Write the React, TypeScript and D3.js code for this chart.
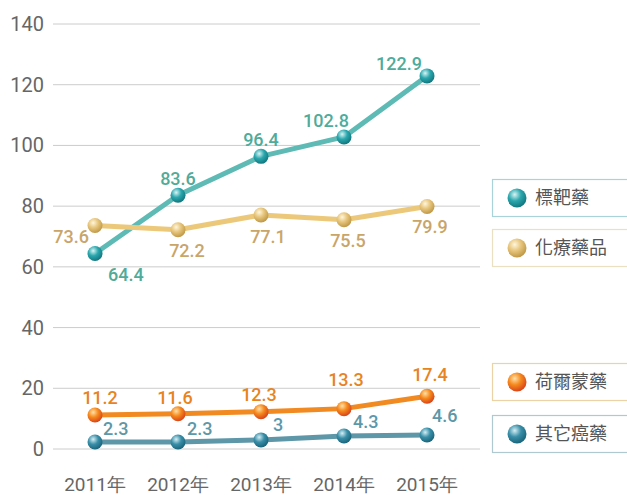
import React from "react";
import * as d3 from "d3";

const years = ["2011年", "2012年", "2013年", "2014年", "2015年"];
const yTicks = [0, 20, 40, 60, 80, 100, 120, 140];
const targeted = [64.4, 83.6, 96.4, 102.8, 122.9];
const chemo = [73.6, 72.2, 77.1, 75.5, 79.9];
const hormone = [11.2, 11.6, 12.3, 13.3, 17.4];
const others = [2.3, 2.3, 3, 4.3, 4.6];
const seriesNames = ["標靶藥", "化療藥品", "荷爾蒙藥", "其它癌藥"];

const W = 627;
const H = 495;

type Series = {
  name: string;
  values: number[];
  line: string;
  label: string;
  dot: [string, string, string];
  border: string;
  legendY: number;
  lab: { dx: number; dy: number; anchor: string }[];
};

const series: Series[] = [
  {
    name: seriesNames[0],
    values: targeted,
    line: "#5dbab5",
    label: "#4fab9a",
    dot: ["#d8f4f4", "#2aa7ad", "#0d6f78"],
    border: "#a8d3d8",
    legendY: 179,
    lab: [
      { dx: 13, dy: 27, anchor: "start" },
      { dx: 0, dy: -10, anchor: "middle" },
      { dx: 0, dy: -10, anchor: "middle" },
      { dx: -18, dy: -10, anchor: "middle" },
      { dx: -28, dy: -6, anchor: "middle" },
    ],
  },
  {
    name: seriesNames[1],
    values: chemo,
    line: "#ecc97a",
    label: "#c9a56a",
    dot: ["#fff6dc", "#e6c47a", "#b8913e"],
    border: "#ebe0c2",
    legendY: 229,
    lab: [
      { dx: -6, dy: 17, anchor: "end" },
      { dx: 9, dy: 27, anchor: "middle" },
      { dx: 7, dy: 28, anchor: "middle" },
      { dx: 4, dy: 27, anchor: "middle" },
      { dx: 3, dy: 27, anchor: "middle" },
    ],
  },
  {
    name: seriesNames[2],
    values: hormone,
    line: "#f28a22",
    label: "#e8841f",
    dot: ["#ffe0a8", "#f5891c", "#d4381a"],
    border: "#ecd3a6",
    legendY: 363,
    lab: [
      { dx: 5, dy: -11, anchor: "middle" },
      { dx: -3, dy: -10, anchor: "middle" },
      { dx: -2, dy: -11, anchor: "middle" },
      { dx: 2, dy: -23, anchor: "middle" },
      { dx: 3, dy: -15, anchor: "middle" },
    ],
  },
  {
    name: seriesNames[3],
    values: others,
    line: "#5d97a8",
    label: "#5d97a8",
    dot: ["#d4eef4", "#3a8fa8", "#135e75"],
    border: "#b0c9d0",
    legendY: 415,
    lab: [
      { dx: 8, dy: -7, anchor: "start" },
      { dx: 9, dy: -7, anchor: "start" },
      { dx: 12, dy: -9, anchor: "start" },
      { dx: 9, dy: -8, anchor: "start" },
      { dx: 5, dy: -13, anchor: "start" },
    ],
  },
];

export default function App() {
  const x = d3.scalePoint<string>().domain(years).range([95, 427]);
  const y = d3.scaleLinear().domain([0, 140]).range([449, 24]);
  const line = d3
    .line<number>()
    .x((_, i) => x(years[i]) as number)
    .y((d) => y(d));
  const font = "Roboto, 'DejaVu Sans', sans-serif";
  const cjk = "'Noto Sans CJK TC', 'Noto Sans CJK SC', sans-serif";

  return (
    <svg
      width={W}
      height={H}
      style={{ position: "absolute", left: 0, top: 0, background: "#fff" }}
    >
      <defs>
        {series.map((s, i) => (
          <radialGradient key={i} id={`g${i}`} cx="0.38" cy="0.32" r="0.75">
            <stop offset="0" stopColor={s.dot[0]} />
            <stop offset="0.45" stopColor={s.dot[1]} />
            <stop offset="1" stopColor={s.dot[2]} />
          </radialGradient>
        ))}
      </defs>
      {yTicks.map((t) => (
        <g key={t}>
          <line x1={53} x2={480} y1={y(t)} y2={y(t)} stroke="#cccccc" strokeWidth={1} />
          <text
            x={44}
            y={y(t) + 7}
            textAnchor="end"
            fontFamily={font}
            fontSize={20}
            fill="#666"
          >
            {t}
          </text>
        </g>
      ))}
      {years.map((yr) => (
        <text
          key={yr}
          x={x(yr)}
          y={491}
          textAnchor="middle"
          fontFamily={font}
          fontSize={19}
          fill="#666"
        >
          {yr}
        </text>
      ))}
      {series.map((s, si) => (
        <g key={si}>
          <path d={line(s.values) || ""} fill="none" stroke={s.line} strokeWidth={5} strokeLinejoin="round" />
          {s.values.map((v, i) => (
            <circle key={i} cx={x(years[i])} cy={y(v)} r={7.5} fill={`url(#g${si})`} />
          ))}
          {s.values.map((v, i) => (
            <text
              key={"t" + i}
              x={(x(years[i]) as number) + s.lab[i].dx}
              y={y(v) + s.lab[i].dy}
              textAnchor={s.lab[i].anchor}
              fontFamily={font}
              fontSize={18}
              fontWeight={500}
              fill={s.label}
            >
              {v}
            </text>
          ))}
        </g>
      ))}
      {series.map((s, si) => (
        <g key={"l" + si}>
          <rect
            x={492.5}
            y={s.legendY + 0.5}
            width={150}
            height={37}
            fill="#fff"
            stroke={s.border}
            strokeWidth={1.2}
          />
          <circle cx={517} cy={s.legendY + 19} r={9.5} fill={`url(#g${si})`} />
          <text
            x={535}
            y={s.legendY + 25}
            fontFamily={cjk}
            fontSize={18}
            fill="#555"
          >
            {s.name}
          </text>
        </g>
      ))}
    </svg>
  );
}
